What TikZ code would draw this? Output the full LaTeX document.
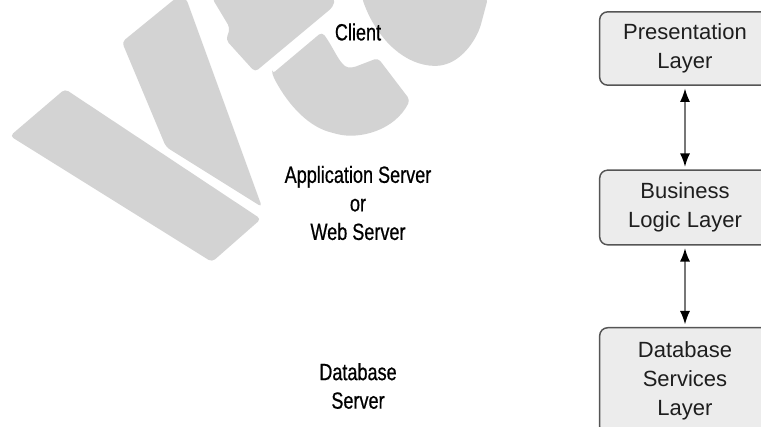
\documentclass[tikz,border=0pt]{standalone}
\usepackage{fontspec}
\setmainfont{Liberation Sans}
\newfontfamily\condfont[FakeStretch=0.77,FakeBold=0.6]{Liberation Sans}
\usetikzlibrary{arrows.meta}
\definecolor{boxfill}{HTML}{ECECEC}
\definecolor{boxline}{HTML}{555555}
\definecolor{wm}{HTML}{D3D3D3}
\definecolor{txt}{HTML}{1E1E1E}
\tikzset{
  layerbox/.style={draw=boxline, line width=1.1pt, fill=boxfill, rounded corners=6pt,
    minimum width=128pt, align=center, text=txt,
    font=\fontsize{16.5pt}{21.75pt}\selectfont, inner sep=0pt},
  tierlabel/.style={align=center, text=black,
    font=\condfont\fontsize{17.6pt}{21.4pt}\selectfont, inner sep=0pt},
  link/.style={draw=boxline!80, line width=1pt, {Latex[length=10pt,width=7.5pt,black]}-{Latex[length=10pt,width=7.5pt,black]}},
  mark wm/.style={fill=wm, draw=none}
}
\begin{document}
\begin{tikzpicture}[x=0.75pt,y=-0.75pt]
\useasboundingbox (0,0) rectangle (761,427);
\clip (0,0) rectangle (761,427);
% watermark
\fill[mark wm, rounded corners=3pt] (10,136) -- (65,89) -- (261,219) -- (212,262) -- cycle;
\fill[mark wm, rounded corners=3pt] (122,42) -- (176,-2) -- (186,-2) -- (262,207) -- (166,147) -- cycle;
\fill[mark wm, rounded corners=3pt] (212,-2) -- (335,-2) -- (333,7) -- (255,72) -- (226,40) -- (230,28) -- cycle;
\fill[mark wm, rounded corners=3pt] (272,74) -- (322,32) .. controls (334,48) and (340,66) .. (352,68) -- (378,58) -- (410,100) .. controls (395,130) and (360,140) .. (333,133) .. controls (305,125) and (285,100) .. cycle;
\fill[mark wm, rounded corners=3pt] (362,-2) -- (488,-2) -- (480,28) .. controls (470,50) and (455,65) .. (433,66) .. controls (400,62) and (375,35) .. cycle;
% layer boxes
\node[layerbox, minimum height=55pt] (pres) at (685,48.5) {Presentation\\Layer};
\node[layerbox, minimum height=56pt] (bus) at (685,207.5) {Business\\Logic Layer};
\node[layerbox, minimum height=80pt, anchor=north] (db) at (685,327) {Database\\Services\\Layer};
% arrows
\draw[link] ([yshift=-2pt]pres.south) -- ([yshift=2pt]bus.north);
\draw[link] ([yshift=-2pt]bus.south) -- ([yshift=2pt]db.north);
% tier labels
\node[tierlabel] (client) at (358,32) {Client};
\node[tierlabel] (app) at (358,203) {Application Server\\or\\Web Server};
\node[tierlabel] (dbs) at (358,386) {Database\\Server};
\end{tikzpicture}
\end{document}
